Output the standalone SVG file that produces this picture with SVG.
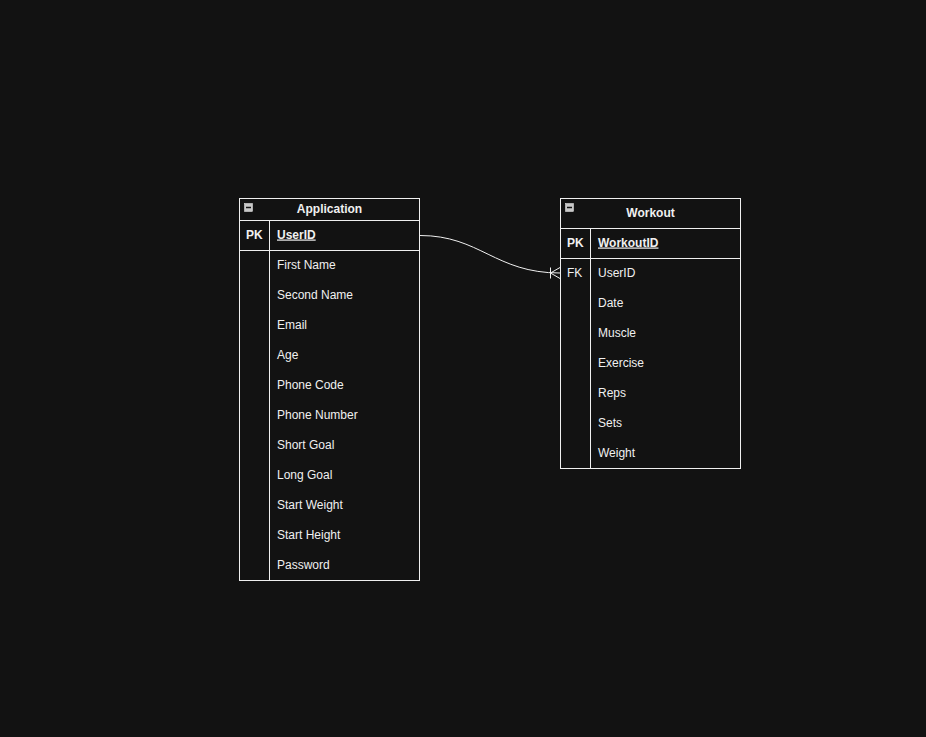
<svg xmlns="http://www.w3.org/2000/svg" width="926" height="737" viewBox="0 0 926 737">
<style>
.bg{fill:#121212}
.box{fill:#121212;stroke:#f0f0f0;stroke-width:1}
.ln{stroke:#f0f0f0;stroke-width:1;fill:none}
.t{font-family:"Liberation Sans",Arial,sans-serif;font-size:12px;fill:#f0f0f0}
.b{font-weight:bold}
.h{font-weight:bold;text-anchor:middle}
.u{text-decoration:underline}
.icon{fill:#c8c8c8;stroke:#f0f0f0;stroke-width:0.5}
.dash{stroke:#121212;stroke-width:1.5}
</style>
<rect class="bg" x="0" y="0" width="926" height="737"/>
<g id="connectors">
<path class="ln" d="M420 235.5 C480 235.5 495 273 560 273"/>
<path class="ln" d="M550.5 267.5 L550.5 278.5 M550.5 273 L560 267.5 M550.5 273 L560 278.5"/>
</g>
<g id="application">
<rect class="box" x="239.5" y="198.5" width="180" height="382"/>
<line class="ln" x1="239.5" y1="220.5" x2="419.5" y2="220.5"/>
<line class="ln" x1="239.5" y1="250.5" x2="419.5" y2="250.5"/>
<line class="ln" x1="269.5" y1="220.5" x2="269.5" y2="580.5"/>
<rect class="icon" x="244.5" y="203.5" width="8" height="8"/>
<line class="dash" x1="246" y1="207.5" x2="251" y2="207.5"/>
<text class="t h" x="329.5" y="213">Application</text>
<text class="t b" x="246" y="238.5">PK</text>
<text class="t b u" x="277" y="238.5">UserID</text>
<text class="t" x="277" y="268.5">First Name</text>
<text class="t" x="277" y="298.5">Second Name</text>
<text class="t" x="277" y="328.5">Email</text>
<text class="t" x="277" y="358.5">Age</text>
<text class="t" x="277" y="388.5">Phone Code</text>
<text class="t" x="277" y="418.5">Phone Number</text>
<text class="t" x="277" y="448.5">Short Goal</text>
<text class="t" x="277" y="478.5">Long Goal</text>
<text class="t" x="277" y="508.5">Start Weight</text>
<text class="t" x="277" y="538.5">Start Height</text>
<text class="t" x="277" y="568.5">Password</text>
</g>
<g id="workout">
<rect class="box" x="560.5" y="198.5" width="180" height="270"/>
<line class="ln" x1="560.5" y1="228.5" x2="740.5" y2="228.5"/>
<line class="ln" x1="560.5" y1="258.5" x2="740.5" y2="258.5"/>
<line class="ln" x1="590.5" y1="228.5" x2="590.5" y2="468.5"/>
<rect class="icon" x="565.5" y="203.5" width="8" height="8"/>
<line class="dash" x1="567" y1="207.5" x2="572" y2="207.5"/>
<text class="t h" x="650.5" y="217">Workout</text>
<text class="t b" x="567" y="246.5">PK</text>
<text class="t b u" x="598" y="246.5">WorkoutID</text>
<text class="t" x="567" y="276.5">FK</text>
<text class="t" x="598" y="276.5">UserID</text>
<text class="t" x="598" y="306.5">Date</text>
<text class="t" x="598" y="336.5">Muscle</text>
<text class="t" x="598" y="366.5">Exercise</text>
<text class="t" x="598" y="396.5">Reps</text>
<text class="t" x="598" y="426.5">Sets</text>
<text class="t" x="598" y="456.5">Weight</text>
</g>
</svg>
